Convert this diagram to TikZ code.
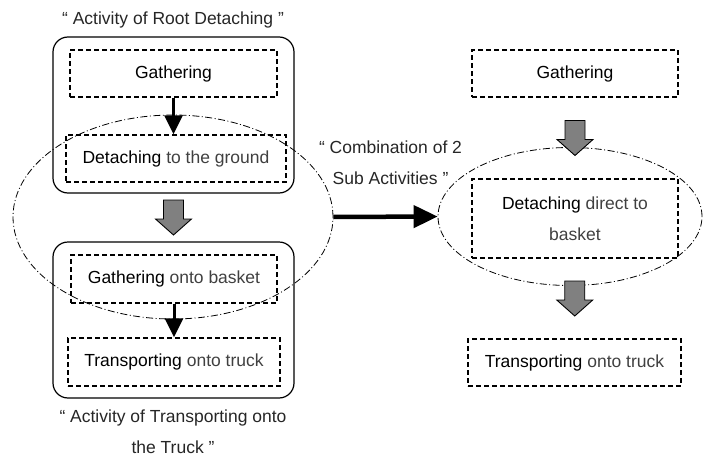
\documentclass[tikz,border=0pt]{standalone}
\usepackage{fontspec}
\setmainfont{Liberation Sans}
\usetikzlibrary{arrows.meta,calc,shapes.geometric}
\definecolor{soft}{HTML}{404040}
\definecolor{arrowgray}{HTML}{808080}
\newcommand\blockarr[3]{% #1 name, from node #2 to node #3
  \path ($(#2.south)!0.5!(#3.north)$) coordinate (#1);
  \draw[blockstyle] ($(#1)+(-10,-17.5)$) -- ($(#1)+(10,-17.5)$) -- ($(#1)+(10,1.5)$)
    -- ($(#1)+(18,1.5)$) -- ($(#1)+(0,17.5)$) -- ($(#1)+(-18,1.5)$)
    -- ($(#1)+(-10,1.5)$) -- cycle;}
\begin{document}
\begin{tikzpicture}[x=1pt,y=-1pt,
  every node/.style={font=\fontsize{17.5}{31}\selectfont, inner sep=0pt, text=soft},
  dbox/.style={draw=black, dash pattern=on 5pt off 3pt, line width=1.4pt},
  cont/.style={draw=black, line width=1.2pt, rounded corners=15pt, minimum width=241, minimum height=156},
  dd/.style={draw=black, ellipse, line width=0.8pt, dash pattern=on 7pt off 2.5pt on 1pt off 2.5pt},
  blockstyle/.style={draw=black, line width=0.9pt, fill=arrowgray},
  smallarr/.style={draw=black, line width=3pt, -{Triangle[length=19pt,width=18pt]}},
  bigarr/.style={draw=black, line width=4.5pt, -{Triangle[length=24pt,width=22pt]}},
  lbl/.style={align=center, text=black!85}]
\useasboundingbox (0,0) rectangle (705,458);

% containers
\node[cont] (box1) at (173.5,115) {};
\node[cont] (box2) at (173.5,320) {};

% left column
\node[dbox, minimum width=207, minimum height=47] (g1) at (173.5,73.5) {\textcolor{black}{Gathering}};
\node[dbox, minimum width=220, minimum height=47] (d1) at (176,158.5) {\textcolor{black}{Detaching} to the ground};
\node[dbox, minimum width=206, minimum height=48] (g3) at (174,279) {\textcolor{black}{Gathering} onto basket};
\node[dbox, minimum width=212, minimum height=48] (t1) at (174,362) {\textcolor{black}{Transporting} onto truck};

% right column
\node[dbox, minimum width=206, minimum height=47] (g2) at (575,73.5) {\textcolor{black}{Gathering}};
\node[dbox, minimum width=206, minimum height=79, align=center] (d2) at (575,218.5) {\textcolor{black}{Detaching} direct to\\basket};
\node[dbox, minimum width=213, minimum height=47] (t2) at (574.5,362.5) {\textcolor{black}{Transporting} onto truck};

% labels
\node[lbl] (title1) at (173,20) {“ Activity of Root Detaching ”};
\node[lbl] (comb) at (390.5,163) {“ Combination of 2\\Sub Activities ”};
\node[lbl] (title2) at (173,432) {“ Activity of Transporting onto\\the Truck ”};

% ellipses
\node[dd, minimum width=320, minimum height=204] (e1) at (173,217) {};
\node[dd, minimum width=264, minimum height=138] (e2) at (570,216.5) {};

% connectors
\draw[smallarr] (g1.south) -- (g1.south |- d1.north);
\draw[smallarr] (g3.south) -- (g3.south |- t1.north);
\blockarr{m1}{box1}{box2}
\blockarr{m2}{g2}{d2}
\blockarr{m3}{d2}{t2}
\draw[bigarr] (e1.east) -- (e2.west);
\end{tikzpicture}
\end{document}
